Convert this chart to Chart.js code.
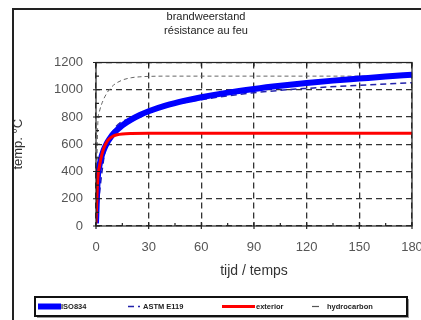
<!DOCTYPE html>
<html>
<head>
<meta charset="utf-8">
<script src="https://cdn.jsdelivr.net/npm/chart.js@4"></script>
<style>
  html, body { margin: 0; padding: 0; background: #fff; }
  #wrap { width: 421px; height: 320px; }
</style>
</head>
<body>
<div id="wrap"><canvas id="fireChart" width="421" height="320"></canvas></div>
<script>
// courbes de feu (minutes / °C)
const isoTime = [0, 1, 2, 3, 4, 5, 6, 7, 8, 9, 10, 12, 15, 20, 25, 30, 40, 50, 60, 75, 90, 105, 120, 135, 150, 165, 180];
const iso834 = [20, 349, 445, 502, 544, 576, 603, 626, 645, 663, 678, 705, 739, 781, 815, 842, 885, 918, 945, 979, 1006, 1029, 1049, 1067, 1082, 1097, 1110];

const astmTime = [0, 5, 10, 20, 30, 45, 60, 90, 120, 150, 180];
const astmE119 = [20, 538, 704, 795, 843, 892, 927, 978, 1010, 1033, 1052];

const extTime = [0, 1, 2, 3, 4, 5, 6, 7, 8, 10, 12, 15, 20, 30, 180];
const exterior = [20, 346, 441, 506, 554, 588, 613, 632, 645, 661, 670, 676, 679, 680, 680];

const hydroTime = [0, 1, 2, 3, 4, 5, 7, 10, 15, 20, 25, 30, 40, 180];
const hydrocarbon = [20, 743, 843, 887, 920, 948, 991, 1034, 1071, 1088, 1095, 1098, 1100, 1100];

const xTicks = [0, 30, 60, 90, 120, 150, 180];
const yTicks = [0, 200, 400, 600, 800, 1000, 1200];
const titleLines = ['brandweerstand', 'résistance au feu'];
const legendLabels = ['ISO834', 'ASTM E119', 'exterior', 'hydrocarbon'];

const toPoints = (xs, ys) => xs.map((x, i) => ({ x: x, y: ys[i] }));

// legende + cadre + graduations
const framePlugin = {
    id: 'framePlugin',
    beforeDraw(chart) {
        const ctx = chart.ctx;
        ctx.save();
        ctx.fillStyle = '#fff';
        ctx.fillRect(0, 0, chart.width, chart.height);
        ctx.strokeStyle = '#222';
        ctx.lineWidth = 2;
        ctx.beginPath();
        ctx.moveTo(13, chart.height);
        ctx.lineTo(13, 9);
        ctx.lineTo(chart.width, 9);
        ctx.stroke();
        ctx.restore();
    },
    afterDraw(chart) {
        const ctx = chart.ctx;
        const a = chart.chartArea;
        const xs = chart.scales.x;
        const ys = chart.scales.y;
        ctx.save();
        ctx.strokeStyle = '#222';
        ctx.lineWidth = 1.2;
        ctx.strokeRect(a.left, a.top, a.right - a.left, a.bottom - a.top);

        ctx.beginPath();
        for (let v = 0; v <= 180; v += 15) {
            const px = xs.getPixelForValue(v);
            const major = v % 30 === 0;
            ctx.moveTo(px, a.bottom + (major ? 3 : 0));
            ctx.lineTo(px, a.bottom - (major ? 4 : 3));
            ctx.moveTo(px, a.top);
            ctx.lineTo(px, a.top + (major ? 4 : 0));
        }
        for (let v = 0; v <= 1200; v += 100) {
            const py = ys.getPixelForValue(v);
            const major = v % 200 === 0;
            ctx.moveTo(a.left - (major ? 3 : 0), py);
            ctx.lineTo(a.left + (major ? 4 : 3), py);
        }
        ctx.stroke();

        // legende
        const lx = 35, ly = 297, lw = 372, lh = 19;
        ctx.fillStyle = '#999';
        ctx.fillRect(lx + 2, ly + 2, lw, lh);
        ctx.fillStyle = '#fff';
        ctx.fillRect(lx, ly, lw, lh);
        ctx.strokeStyle = '#111';
        ctx.lineWidth = 2;
        ctx.strokeRect(lx, ly, lw, lh);

        const midY = ly + lh / 2;
        const samples = [
            { x: 38, len: 23, color: '#0000ff', width: 6, dash: [] },
            { x: 128, len: 12, color: '#2222aa', width: 1.5, dash: [6, 4] },
            { x: 222, len: 33, color: '#ff0000', width: 3, dash: [] },
            { x: 312, len: 7, color: '#555', width: 1.2, dash: [] }
        ];
        const textX = [61, 143, 256, 327];
        samples.forEach((s, i) => {
            ctx.beginPath();
            ctx.setLineDash(s.dash);
            ctx.strokeStyle = s.color;
            ctx.lineWidth = s.width;
            ctx.moveTo(s.x, midY);
            ctx.lineTo(s.x + s.len, midY);
            ctx.stroke();
            ctx.setLineDash([]);
            ctx.fillStyle = '#222';
            ctx.font = 'bold 7.5px "Liberation Sans", Arial, sans-serif';
            ctx.textBaseline = 'middle';
            ctx.fillText(legendLabels[i], textX[i], midY);
        });
        ctx.restore();
    }
};

const ctx = document.getElementById('fireChart').getContext('2d');
new Chart(ctx, {
    type: 'line',
    data: {
        datasets: [
            { label: legendLabels[0], data: toPoints(isoTime, iso834), borderColor: '#0000ff', borderWidth: 6, order: 1 },
            { label: legendLabels[1], data: toPoints(astmTime, astmE119), borderColor: '#2222aa', borderWidth: 1.5, borderDash: [6, 4], order: 2 },
            { label: legendLabels[2], data: toPoints(extTime, exterior), borderColor: '#ff0000', borderWidth: 3, order: 0 },
            { label: legendLabels[3], data: toPoints(hydroTime, hydrocarbon), borderColor: '#666', borderWidth: 1, borderDash: [4, 3], order: 3 }
        ]
    },
    options: {
        responsive: false,
        animation: false,
        events: [],
        elements: {
            point: { radius: 0 },
            line: { tension: 0, cubicInterpolationMode: 'monotone', fill: false }
        },
        layout: { padding: { left: 0, right: 9, top: 0, bottom: 34 } },
        plugins: {
            legend: { display: false },
            tooltip: { enabled: false },
            title: {
                display: true,
                text: titleLines,
                color: '#222',
                font: { family: '"Liberation Sans", Arial, sans-serif', size: 11, weight: 'normal', lineHeight: 1.25 },
                padding: { top: 10, bottom: 25 }
            }
        },
        scales: {
            x: {
                type: 'linear',
                min: 0,
                max: 180,
                afterBuildTicks: (scale) => { scale.ticks = xTicks.map(v => ({ value: v })); },
                afterFit: (scale) => { scale.height = 60; scale.paddingRight = 0; },
                ticks: {
                    color: '#555',
                    padding: 14,
                    maxRotation: 0,
                    font: { family: '"Liberation Sans", Arial, sans-serif', size: 13 },
                    callback: (v) => String(v)
                },
                grid: { color: '#333', lineWidth: 1.3, drawTicks: false },
                border: { display: false, dash: [6, 4] },
                title: {
                    display: true,
                    text: 'tijd / temps',
                    color: '#333',
                    font: { family: '"Liberation Sans", Arial, sans-serif', size: 14 },
                    padding: { top: 0, bottom: 6 }
                }
            },
            y: {
                min: 0,
                max: 1200,
                afterBuildTicks: (scale) => { scale.ticks = yTicks.map(v => ({ value: v })); },
                afterFit: (scale) => { scale.width = 96; },
                ticks: {
                    color: '#555',
                    padding: 13,
                    font: { family: '"Liberation Sans", Arial, sans-serif', size: 13 },
                    callback: (v) => String(v)
                },
                grid: { color: '#333', lineWidth: 1.3, drawTicks: false },
                border: { display: false, dash: [6, 4] },
                title: {
                    display: true,
                    text: 'temp. °C',
                    color: '#333',
                    font: { family: '"Liberation Sans", Arial, sans-serif', size: 13 },
                    padding: { top: 11, bottom: 0 }
                }
            }
        }
    },
    plugins: [framePlugin]
});
</script>
</body>
</html>
